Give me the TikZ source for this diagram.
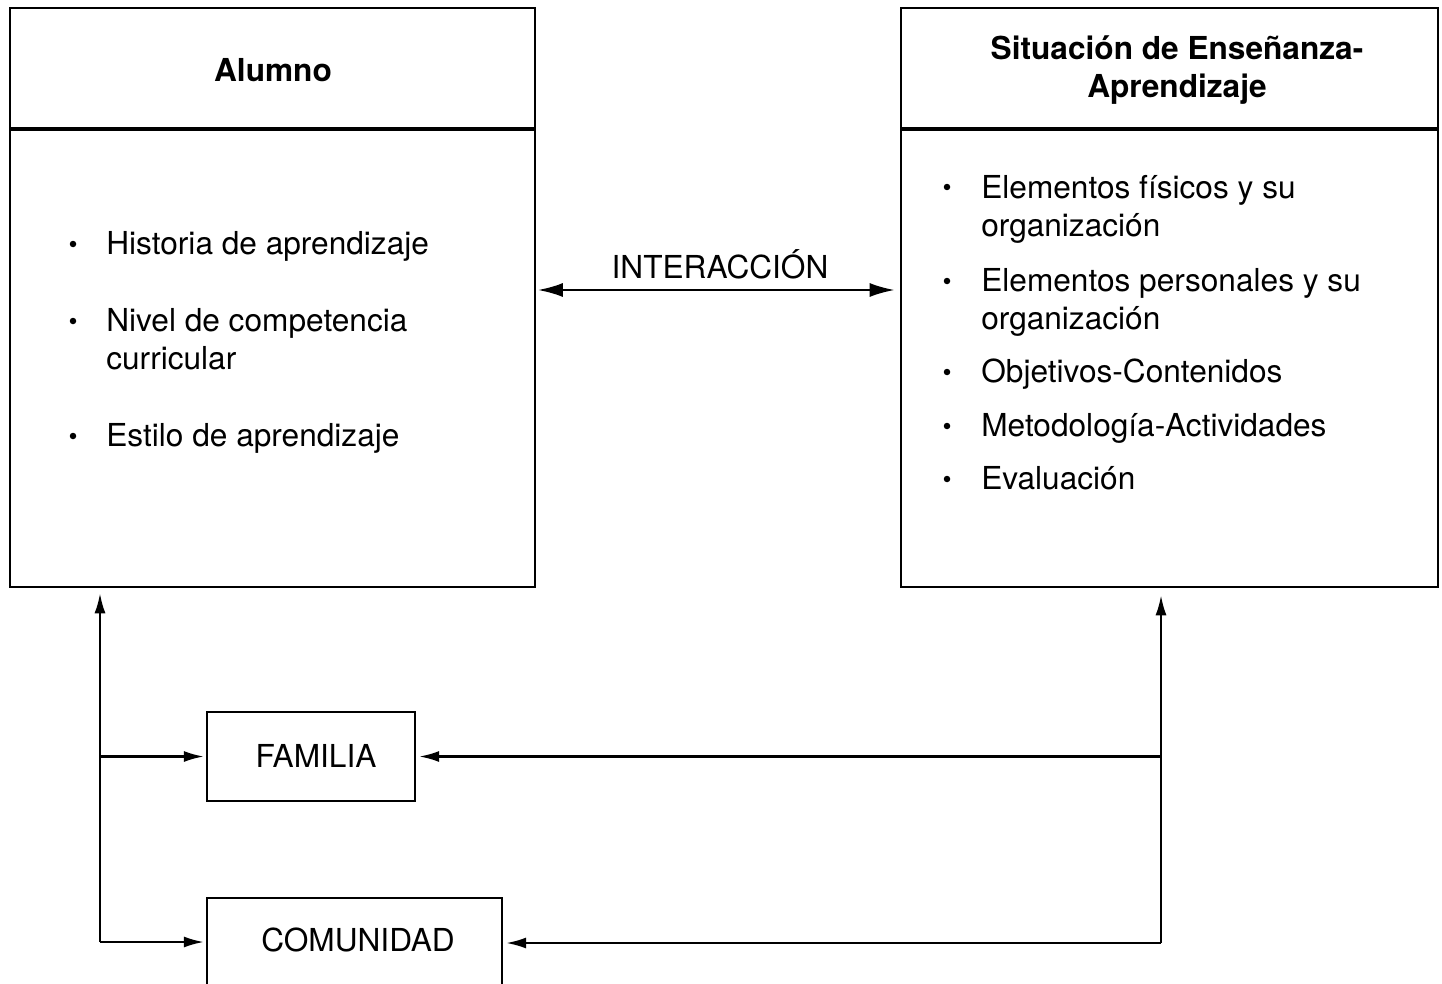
\documentclass[tikz,border=0pt]{standalone}
\usepackage{fontspec}
\setmainfont{TeX Gyre Heros}
\usetikzlibrary{arrows.meta}

\begin{document}
\begin{tikzpicture}[x=0.02cm, y=-0.02cm,
  box/.style={draw, line width=.45mm, inner sep=0pt},
  txt/.style={font=\fontsize{18}{21.6}\selectfont, inner sep=0pt},
  ttl/.style={font=\fontsize{18}{21.6}\selectfont\bfseries, inner sep=0pt, align=center},
  item/.style={txt, anchor=base west, align=left},
  bul/.style={circle, fill, inner sep=0pt, minimum size=0.13cm},
  arr/.style={line width=.45mm, -{Latex[length=4mm, width=2.2mm]}},
  bigarr/.style={line width=.45mm, {Latex[length=5mm, width=2.8mm]}-{Latex[length=5mm, width=2.8mm]}}]
\useasboundingbox (0,0) rectangle (1442,983);
\node[box, minimum width=10.5cm, minimum height=2.4cm] (alumno) at (272.5,68) {};
\node[box, minimum width=10.5cm, minimum height=9.14cm, anchor=north] (alumnoB) at (alumno.south) {};
\node[ttl] (alumnoT) at (273,70) {Alumno};
\node[box, minimum width=10.74cm, minimum height=2.4cm] (sit) at (1169.5,68) {};
\node[box, minimum width=10.74cm, minimum height=9.14cm, anchor=north] (sitB) at (sit.south) {};
\node[ttl] (sitT) at (1177,70) {Situación de Enseñanza-\\Aprendizaje};
\node[bul] (b1) at (73,244) {};
\node[item] (hist) at (106,254) {Historia de aprendizaje};
\node[bul] (b2) at (73,321) {};
\node[item] (nivel) at (106,369) {Nivel de competencia\\curricular};
\node[bul] (b3) at (73,436) {};
\node[item] (estilo) at (106,446) {Estilo de aprendizaje};
\node[bul] (c1) at (947,187) {};
\node[item] (fis) at (981,236) {Elementos físicos y su\\organización};
\node[bul] (c2) at (947,281) {};
\node[item] (pers) at (981,329) {Elementos personales y su\\organización};
\node[bul] (c3) at (947,372) {};
\node[item] (obj) at (981,382) {Objetivos-Contenidos};
\node[bul] (c4) at (947,426) {};
\node[item] (met) at (981,436) {Metodología-Actividades};
\node[bul] (c5) at (947,479) {};
\node[item] (eval) at (981,489) {Evaluación};
\node[txt, anchor=base] (inter) at (720,278) {INTERACCIÓN};
\node[box, minimum width=4.16cm, minimum height=1.78cm] (familia) at (311,756.5) {};
\node[txt] (familiaT) at (316,756) {FAMILIA};
\node[box, minimum width=5.9cm, minimum height=1.76cm] (comunidad) at (354.5,942) {};
\node[txt] (comunidadT) at (358,940) {COMUNIDAD};
\coordinate (ia) at (720,290);
\coordinate (lc) at (100,942);
\coordinate (rc) at (1161,943);
\draw[bigarr, shorten <=1, shorten >=3] (alumnoB.east |- ia) -- (sitB.west |- ia);
\draw[arr, shorten >=0.1cm] (lc) -- (lc |- alumnoB.south);
\draw[arr, shorten >=0.04cm] (lc |- familia.west) -- (familia.west);
\draw[arr, shorten >=0.04cm] (lc) -- (lc -| comunidad.west);
\draw[arr, shorten >=0.14cm] (rc) -- (rc |- sitB.south);
\draw[arr, shorten >=0.06cm] (rc |- familia.east) -- (familia.east);
\draw[arr, shorten >=0.06cm] (rc) -- (rc -| comunidad.east);
\end{tikzpicture}
\end{document}
